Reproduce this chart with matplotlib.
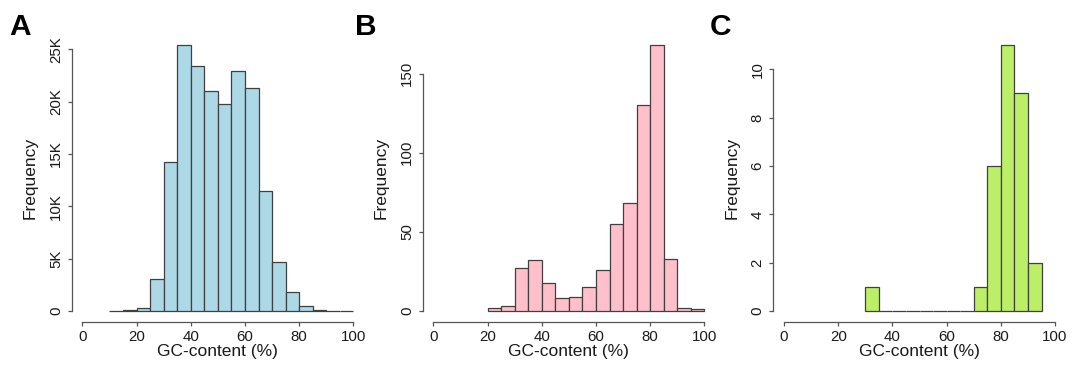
import numpy as np
import matplotlib
matplotlib.use("Agg")
from matplotlib import pyplot as plt
from matplotlib.ticker import FuncFormatter

plt.rcParams['font.family'] = ['Liberation Sans', 'DejaVu Sans']

# GC-content histograms, 5% bins
edges_a = np.arange(10, 101, 5)
counts_a = [20, 60, 300, 3100, 14270, 25400, 23400, 21050, 19750,
            22900, 21300, 11430, 4650, 1800, 480, 100, 20, 10]

edges_b = np.arange(20, 101, 5)
counts_b = [2, 3, 27, 32, 18, 8, 9, 15, 26, 55, 68, 130, 168, 33, 2, 1]

edges_c = np.arange(30, 96, 5)
counts_c = [1, 0, 0, 0, 0, 0, 0, 0, 1, 6, 11, 9, 2]

yticks_a = [0, 5000, 10000, 15000, 20000, 25000]
yticks_b = [0, 50, 100, 150]
yticks_c = [0, 2, 4, 6, 8, 10]
xticks = [0, 20, 40, 60, 80, 100]

W, H = 1073, 375
fig = plt.figure(figsize=(W / 100, H / 100), dpi=100)

edge_col = '#404040'
axis_col = '#555555'


def k_fmt(v, pos):
    return '0' if v == 0 else f'{int(v / 1000)}K'


def draw_hist(left_px, edges, counts, color, yticks, fmt=None):
    top_px, bottom_px, right_px = 34.4, 321.7, left_px + 292.7
    ax = fig.add_axes([left_px / W, 1 - bottom_px / H,
                       (right_px - left_px) / W, (bottom_px - top_px) / H])
    ax.bar(edges[:-1], counts, width=5, align='edge', color=color,
           edgecolor=edge_col, linewidth=0.9)
    ymax = max(counts)
    ax.set_xlim(-4, 104)
    ax.set_ylim(-0.04 * ymax, 1.04 * ymax)
    for s in ['top', 'right']:
        ax.spines[s].set_visible(False)
    ax.spines['left'].set_bounds(yticks[0], yticks[-1])
    ax.spines['bottom'].set_bounds(0, 100)
    for s in ['left', 'bottom']:
        ax.spines[s].set_color(axis_col)
        ax.spines[s].set_linewidth(0.9)
    ax.set_xticks(xticks)
    ax.set_yticks(yticks)
    if fmt is not None:
        ax.yaxis.set_major_formatter(FuncFormatter(fmt))
    ax.tick_params(axis='both', colors=axis_col, labelcolor='#1a1a1a',
                   length=3.2, width=0.9, labelsize=10.8)
    ax.tick_params(axis='x', pad=3)
    ax.tick_params(axis='y', pad=3, labelrotation=90)
    for lab in ax.get_yticklabels():
        lab.set_va('center')
    ax.set_xlabel('GC-content (%)', fontsize=12.5, labelpad=0, color='#1a1a1a')
    ax.set_ylabel('Frequency', fontsize=12.5, labelpad=8, color='#1a1a1a')
    return ax


draw_hist(71.5, edges_a, counts_a, '#ADD8E6', yticks_a, k_fmt)
draw_hist(422.5, edges_b, counts_b, '#FFC0CB', yticks_b)
draw_hist(773.2, edges_c, counts_c, '#BCEE68', yticks_c)

for x_px, letter in [(9, 'A'), (355, 'B'), (710, 'C')]:
    fig.text(x_px / W, 1 - 35 / H, letter, fontsize=21.5, fontweight='bold',
             ha='left', va='baseline')

fig.savefig('out.png', dpi=100)
